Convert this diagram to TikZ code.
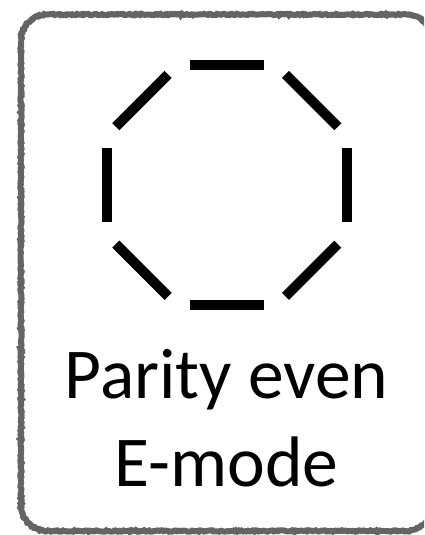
\documentclass[tikz,border=0pt]{standalone}
\usepackage{fontspec}
\setmainfont{Carlito}
\usetikzlibrary{calc, decorations.pathmorphing}
\definecolor{frameGray}{RGB}{100,100,100}

\begin{document}
\begin{tikzpicture}[
  x=1pt, y=-1pt,
  frame/.style={
    draw=frameGray, line width=6pt,
    decoration={random steps, segment length=1.5pt, amplitude=0.7pt}
  },
  edgebar/.style={line width=10pt, black, line cap=butt},
  caption/.style={font=\fontsize{71.5}{88.7}\selectfont, anchor=base, inner sep=0pt}
]
  \useasboundingbox (0,0) rectangle (424,535);
  \begin{scope}
    \clip (0,0) rectangle (424,535);
    \draw[frame] decorate {[rounded corners=26pt] (21,14.5) rectangle (432,531)};
  \end{scope}

  % octagon drawn as eight separate bars
  \coordinate (oct) at (226.8,185.4);
  \foreach \a in {0,45,...,315}
    \draw[edgebar] ($(oct)+(\a:120)+(\a+90:37)$) -- ($(oct)+(\a:120)+(\a-90:37)$);

  \node[caption] (parity) at (226.5,398) {Parity even};
  \node[caption] (emode)  at (226.5,486.7) {E-mode};
\end{tikzpicture}
\end{document}
